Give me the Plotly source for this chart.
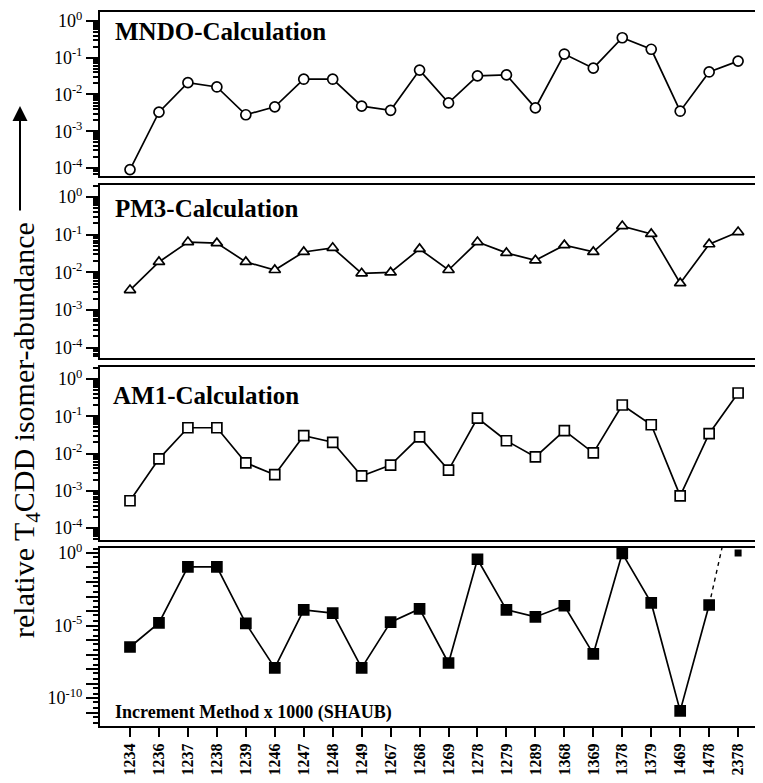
import plotly.graph_objects as go

# ---------------- data ----------------
isomers = ["1234", "1236", "1237", "1238", "1239", "1246", "1247", "1248", "1249", "1267", "1268",
           "1269", "1278", "1279", "1289", "1368", "1369", "1378", "1379", "1469", "1478", "2378"]

mndo = [9e-5, 3.3e-3, 0.021, 0.016, 2.8e-3, 4.6e-3, 0.026, 0.026, 4.8e-3, 3.7e-3, 0.046,
        5.9e-3, 0.032, 0.034, 4.3e-3, 0.126, 0.052, 0.35, 0.17, 3.5e-3, 0.041, 0.081]
pm3 = [3.4e-3, 0.019, 0.064, 0.060, 0.019, 0.0116, 0.035, 0.045, 9.5e-3, 0.0100, 0.042,
       0.0116, 0.064, 0.033, 0.021, 0.053, 0.035, 0.17, 0.105, 5.2e-3, 0.056, 0.118]
am1 = [5.4e-4, 7.2e-3, 0.049, 0.049, 5.6e-3, 2.7e-3, 0.030, 0.020, 2.5e-3, 4.9e-3, 0.028,
       3.6e-3, 0.089, 0.022, 8.1e-3, 0.041, 0.0104, 0.20, 0.059, 7.3e-4, 0.034, 0.42]
# increment method (SHAUB) x 1000, isomers 1234 ... 1478
shaub = [3.3e-7, 1.5e-5, 0.11, 0.11, 1.4e-5, 1.2e-8, 1.2e-4, 7.2e-5, 1.2e-8, 1.7e-5, 1.4e-4,
         2.6e-8, 0.37, 1.2e-4, 3.9e-5, 2.3e-4, 1.1e-7, 0.95, 3.6e-4, 1.3e-11, 2.6e-4]
shaub_2378_offscale = 2e5   # 2378 lies far above the scale (dashed continuation)
shaub_2378_plotted = 1.0    # symbol drawn at the top edge with an arrow

titles = ["MNDO-Calculation", "PM3-Calculation", "AM1-Calculation", "Increment Method x 1000 (SHAUB)"]
ytitle = "relative T<sub>4</sub>CDD isomer-abundance"

# ---------------- figure ----------------
SERIF = "Liberation Serif, Times New Roman, serif"
BLACK = "black"

fig = go.Figure()


def add_series(vals, xs, row, symbol, fill, size):
    suffix = "" if row == 1 else str(row)
    fig.add_trace(go.Scatter(
        x=xs, y=vals, mode="lines+markers",
        line=dict(color=BLACK, width=1.7),
        marker=dict(symbol=symbol, size=size, color=fill, line=dict(color=BLACK, width=1.7)),
        xaxis="x" + suffix, yaxis="y" + suffix, showlegend=False, cliponaxis=False))


add_series(mndo, isomers, 1, "circle", "white", 10)
add_series(pm3, isomers, 2, "triangle-up", "white", 10)
add_series(am1, isomers, 3, "square", "white", 10)
add_series(shaub, isomers[:len(shaub)], 4, "square", BLACK, 10)

# dashed continuation to the off-scale 2378 value (clipped by the axes)
fig.add_trace(go.Scatter(
    x=[isomers[len(shaub) - 1], isomers[-1]], y=[shaub[-1], shaub_2378_offscale],
    mode="lines", line=dict(color=BLACK, width=1.4, dash="4px,4px"),
    xaxis="x4", yaxis="y4", showlegend=False, cliponaxis=True))
fig.add_trace(go.Scatter(
    x=[isomers[-1]], y=[shaub_2378_plotted], mode="markers",
    marker=dict(symbol="square", size=7, color=BLACK),
    xaxis="x4", yaxis="y4", showlegend=False, cliponaxis=False))

# panel geometry (paper coordinates)
domains = [(0.7703, 1.0), (0.5154, 0.7577), (0.2605, 0.5028), (0.0, 0.2493)]
yranges = [(-4.22, 0.245), (-4.27, 0.32), (-4.32, 0.32), (-11.93, 0.345)]
xrange_ = [-1.036, 21.86]


def sup(e):
    return "10<sup>%s</sup>" % e


for i in range(4):
    n = i + 1
    sfx = "" if n == 1 else str(n)
    xa = dict(type="category", categoryorder="array", categoryarray=isomers, range=xrange_,
              domain=[0, 1], anchor="y" + sfx, showline=True, linecolor=BLACK, linewidth=2,
              mirror=True, showgrid=False, zeroline=False, automargin=False)
    if n == 4:
        xa.update(ticks="outside", ticklen=9, tickwidth=2, tickcolor=BLACK, tickangle=-90,
                  tickfont=dict(family=SERIF, size=16, color=BLACK, weight="bold"),
                  showticklabels=True)
    else:
        xa.update(ticks="", showticklabels=False)
    if n == 4:
        decs = list(range(0, -13, -1))
        tickvals = [10.0 ** d for d in decs]
        ticktext = [sup(d) if d in (0, -5, -10) else " " for d in decs]
        minor = dict(ticks="outside", dtick="D2", ticklen=5, tickwidth=1.5, tickcolor=BLACK,
                     showgrid=False)
    else:
        decs = list(range(0, -5, -1))
        tickvals = [10.0 ** d for d in decs]
        ticktext = [sup(d) for d in decs]
        minor = dict(ticks="outside", dtick="D1", ticklen=5, tickwidth=1.5, tickcolor=BLACK,
                     showgrid=False)
    ya = dict(type="log", domain=list(domains[i]), range=list(yranges[i]), anchor="x" + sfx,
              showline=True, linecolor=BLACK, linewidth=2, mirror=False, showgrid=False,
              zeroline=False, tickmode="array", tickvals=tickvals, ticktext=ticktext,
              ticks="outside", automargin=False, ticklen=12, tickwidth=2, tickcolor=BLACK,
              tickfont=dict(family=SERIF, size=18, color=BLACK), minor=minor)
    fig.layout["xaxis" + sfx] = xa
    fig.layout["yaxis" + sfx] = ya

# the page body adds an 8 px margin, so the figure is drawn 8 px in from the window corner
OFF = 8
W, H = 763 - OFF, 783 - OFF
L, R, T, B = 100 - OFF, 0, 12 - OFF, 57
pw, ph = W - L - R, H - T - B


def px(xp):
    return (xp - OFF - L) / pw


def py(yp):
    return (H - B - (yp - OFF)) / ph


annots = []
title_pos = [(113, 31, 25), (113, 208, 25), (111, 395, 25), (113, 712, 18)]
for t, (x0, y0, fs) in zip(titles, title_pos):
    annots.append(dict(text="<b>%s</b>" % t, x=px(x0), y=py(y0), xref="paper", yref="paper",
                       xanchor="left", yanchor="middle", showarrow=False,
                       font=dict(family=SERIF, size=fs, color=BLACK)))

# y-axis title with arrow
annots.append(dict(text=ytitle, x=px(26), y=py(430), xref="paper", yref="paper",
                   textangle=-90, showarrow=False, xanchor="center", yanchor="middle",
                   font=dict(family=SERIF, size=30, color=BLACK)))
annots.append(dict(text="", x=px(20), y=py(106), xref="paper", yref="paper",
                   showarrow=True, ax=0, ay=106, axref="pixel", ayref="pixel",
                   arrowhead=2, arrowsize=1.5, arrowwidth=2, arrowcolor=BLACK))
# small arrow marking the off-scale 2378 value
annots.append(dict(text="", x=isomers[-1], y=0.3, xref="x4", yref="y4", xshift=12,
                   showarrow=True, ax=0, ay=26, arrowhead=2, arrowsize=1.2, arrowwidth=1.6,
                   arrowcolor=BLACK))

fig.update_layout(width=W, height=H, margin=dict(l=L, r=R, t=T, b=B),
                  plot_bgcolor="white", paper_bgcolor="white", showlegend=False,
                  annotations=annots)

fig.write_html("out.html")
